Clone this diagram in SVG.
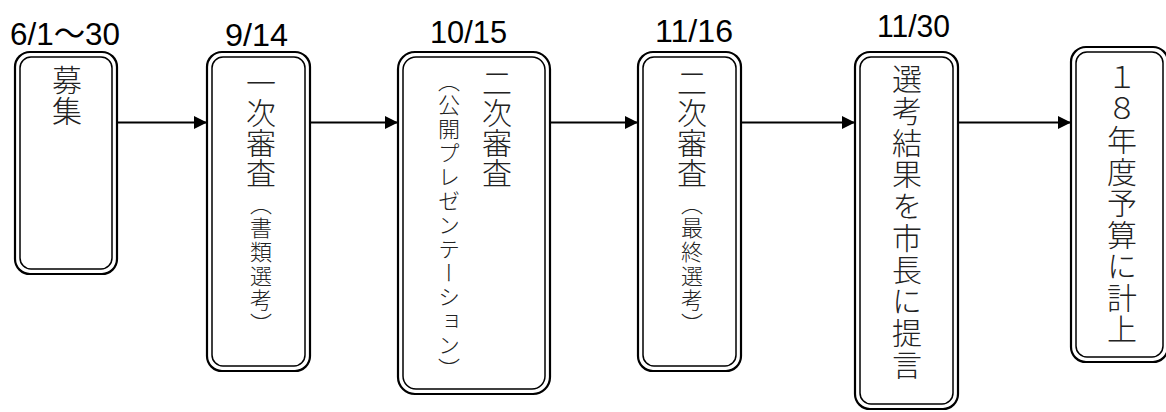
<svg xmlns="http://www.w3.org/2000/svg" width="1166" height="412" viewBox="0 0 1166 412">
<defs>
<style>
.outer{fill:#fff;stroke:#000;stroke-width:2.2}
.inner{fill:none;stroke:#000;stroke-width:1.5}
.date{font-family:"Liberation Sans","Noto Sans CJK JP",sans-serif;font-size:32px;fill:#000}
.v{font-family:"Noto Sans CJK JP",sans-serif;font-weight:300;fill:#222;writing-mode:vertical-rl}
.big{font-size:30px}
.small{font-size:22px}
.conn{stroke:#000;stroke-width:2;fill:none}
</style>
<marker id="ah" viewBox="0 0 13 13" refX="13" refY="6.5" markerWidth="13" markerHeight="13" markerUnits="userSpaceOnUse" orient="auto">
<path d="M0,0 L13,6.5 L0,13 Z" fill="#000"/>
</marker>
</defs>
<rect width="1166" height="412" fill="#fff"/>
<g id="connectors">
<line class="conn" x1="117" y1="122.5" x2="207" y2="122.5" marker-end="url(#ah)"/>
<line class="conn" x1="310" y1="122.5" x2="398" y2="122.5" marker-end="url(#ah)"/>
<line class="conn" x1="550" y1="122.5" x2="638" y2="122.5" marker-end="url(#ah)"/>
<line class="conn" x1="741" y1="122.5" x2="855" y2="122.5" marker-end="url(#ah)"/>
<line class="conn" x1="958" y1="122.5" x2="1071" y2="122.5" marker-end="url(#ah)"/>
</g>
<g id="n1">
<text class="date" x="10" y="45" textLength="110" lengthAdjust="spacingAndGlyphs">6/1〜30</text>
<rect class="outer" x="15" y="52" width="102" height="222" rx="15"/>
<rect class="inner" x="20" y="57" width="92" height="212" rx="11"/>
<text class="v big" x="67" y="65" letter-spacing="1">募集</text>
</g>
<g id="n2">
<text class="date" x="225" y="46" textLength="63" lengthAdjust="spacingAndGlyphs">9/14</text>
<rect class="outer" x="207" y="52" width="103" height="319" rx="15"/>
<rect class="inner" x="212" y="57" width="93" height="309" rx="11"/>
<text class="v big" x="261" y="68">一次審査</text>
<text class="v small" x="261" y="193" letter-spacing="2">（書類選考）</text>
</g>
<g id="n3">
<text class="date" x="430" y="43" textLength="77" lengthAdjust="spacingAndGlyphs">10/15</text>
<rect class="outer" x="398" y="52" width="152" height="342" rx="17"/>
<rect class="inner" x="403" y="57" width="142" height="332" rx="13"/>
<text class="v big" x="497" y="68">二次審査</text>
<text class="v small" x="449" y="70" letter-spacing="2">（公開プレゼンテーション）</text>
</g>
<g id="n4">
<text class="date" x="655" y="42" textLength="78" lengthAdjust="spacingAndGlyphs">11/16</text>
<rect class="outer" x="638" y="52" width="103" height="319" rx="15"/>
<rect class="inner" x="643" y="57" width="93" height="309" rx="11"/>
<text class="v big" x="692" y="68">二次審査</text>
<text class="v small" x="692" y="193" letter-spacing="2">（最終選考）</text>
</g>
<g id="n5">
<text class="date" x="877" y="37" textLength="73" lengthAdjust="spacingAndGlyphs">11/30</text>
<rect class="outer" x="855" y="52" width="103" height="357" rx="15"/>
<rect class="inner" x="860" y="57" width="93" height="347" rx="11"/>
<text class="v big" x="907" y="64" letter-spacing="1.7">選考結果を市長に提言</text>
</g>
<g id="n6">
<rect class="outer" x="1071" y="47" width="97" height="315" rx="15"/>
<rect class="inner" x="1076" y="52" width="87" height="305" rx="11"/>
<text class="v big" x="1122" y="62" letter-spacing="1.5">１８年度予算に計上</text>
</g>
</svg>
